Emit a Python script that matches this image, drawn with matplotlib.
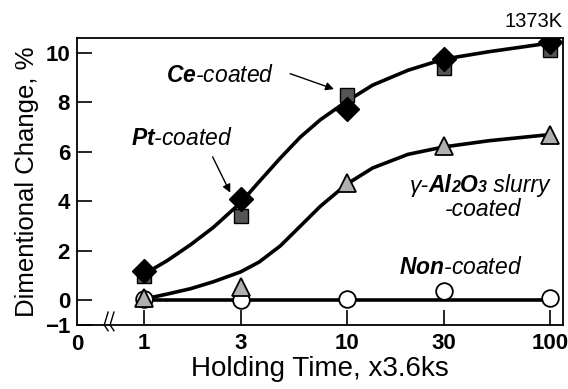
import matplotlib.pyplot as plt
from matplotlib.offsetbox import TextArea, HPacker, AnnotationBbox

plt.rcParams['font.family'] = ['Liberation Sans', 'DejaVu Sans']
plt.rcParams['mathtext.fontset'] = 'custom'
plt.rcParams['mathtext.it'] = 'Liberation Sans:italic'
plt.rcParams['mathtext.bfit'] = 'Liberation Sans:italic:bold'
plt.rcParams['mathtext.rm'] = 'Liberation Sans'

# holding time (x3.6ks) and measured dimensional change (%)
hours = [1, 3, 10, 30, 100]
pt_coated = [1.2, 4.1, 7.75, 9.75, 10.45]
ce_coated = [1.0, 3.4, 8.3, 9.4, 10.1]
al2o3_coated = [0.1, 0.55, 4.75, 6.25, 6.7]
non_coated = [0.05, 0.0, 0.04, 0.37, 0.08]

# fitted curves
fit_hours = [1, 1.3, 1.7, 2.2, 3, 3.7, 4.7, 5.9, 7.4, 10, 13.4, 20, 30, 50, 100]
fit_pt = [1.05, 1.6, 2.25, 2.95, 3.95, 4.8, 5.75, 6.6, 7.3, 8.05, 8.7, 9.3, 9.75, 10.05, 10.4]
fit_al = [0.05, 0.25, 0.47, 0.75, 1.15, 1.55, 2.2, 3.0, 3.8, 4.7, 5.35, 5.9, 6.2, 6.45, 6.7]
fit_non = [0] * len(fit_hours)

xticks = [1, 3, 10, 30, 100]
yticks = [-1, 0, 2, 4, 6, 8, 10]

fig = plt.figure(figsize=(5.68, 3.89), dpi=100)
ax = fig.add_axes([0.1356, 0.1645, 0.8554, 0.7375])
ax.set_xscale('log')

ax.plot(fit_hours, fit_pt, '-', color='black', lw=2.6, zorder=2)
ax.plot(fit_hours, fit_al, '-', color='black', lw=2.6, zorder=2)
ax.plot(fit_hours, fit_non, '-', color='black', lw=2.6, zorder=2)

ax.plot(hours, non_coated, 'o', ms=12, mfc='white', mec='black', mew=1.3, zorder=3)
ax.plot(hours, al2o3_coated, '^', ms=12.5, mfc='#b0b0b0', mec='black', mew=1.3, zorder=3)
ax.plot(hours, ce_coated, 's', ms=10.5, mfc='#555555', mec='black', mew=1.0, zorder=3)
ax.plot(hours, pt_coated, 'D', ms=12.5, mfc='black', mec='black', zorder=4)

ax.set_xlim(0.468, 116)
ax.set_ylim(-1, 10.6)
ax.set_xticks(xticks)
ax.set_xticklabels([str(v) for v in xticks])
ax.minorticks_off()
ax.set_yticks(yticks)
ax.tick_params(axis='both', direction='in', length=11, width=1.2, labelsize=16)
ax.tick_params(axis='x', pad=6)
ax.tick_params(axis='y', pad=5)
for lab in ax.get_xticklabels() + ax.get_yticklabels():
    lab.set_fontweight('bold')
for s in ax.spines.values():
    s.set_linewidth(1.3)

ax.text(0.0, -0.03, '0', transform=ax.transAxes, ha='center', va='top',
        fontsize=16, fontweight='bold')

# axis break mark
for bx in [0.056, 0.068]:
    ax.plot([bx + 0.008, bx, bx + 0.008], [0.045, 0.0, -0.02], color='black',
            lw=1.0, transform=ax.transAxes, clip_on=False)

ax.set_xlabel('Holding Time, x3.6ks', fontsize=20, labelpad=1)
ax.set_ylabel('Dimentional Change, %', fontsize=18.5, labelpad=4)

ax.text(1.0, 1.038, '1373K', transform=ax.transAxes, ha='right', va='baseline',
        fontsize=14.5)

fs = 16.5
ax.text(2.37, 8.83, r'$\mathbfit{Ce}$-coated', ha='center', va='baseline',
        fontsize=fs, style='italic')
ax.annotate('', xy=(8.9, 8.5), xytext=(5.1, 9.2),
            arrowprops=dict(arrowstyle='-|>', color='black', lw=1.0, mutation_scale=12))
ax.text(1.54, 6.26, r'$\mathbfit{Pt}$-coated', ha='center', va='baseline',
        fontsize=fs, style='italic')
ax.annotate('', xy=(2.7, 4.25), xytext=(2.15, 5.9),
            arrowprops=dict(arrowstyle='-|>', color='black', lw=1.0, mutation_scale=12))

it = dict(fontsize=fs, style='italic')
bi = dict(fontsize=fs, style='italic', weight='bold')
sub = dict(fontsize=fs * 0.7, style='italic', weight='bold')
pieces = [TextArea('γ-', textprops=it), TextArea('Al', textprops=bi),
          TextArea('2', textprops=sub), TextArea('O', textprops=bi),
          TextArea('3', textprops=sub), TextArea(' slurry', textprops=it)]
line1 = HPacker(children=pieces, align='baseline', pad=0, sep=0)
ax.add_artist(AnnotationBbox(line1, (45, 4.18), xycoords='data',
                             box_alignment=(0.5, 0.0), frameon=False, pad=0))
ax.text(47, 3.42, '-coated', ha='center', va='baseline', fontsize=fs, style='italic')
ax.text(36.5, 1.06, r'$\mathbfit{Non}$-coated', ha='center', va='baseline',
        fontsize=fs, style='italic')

fig.savefig('out.png', dpi=100)
